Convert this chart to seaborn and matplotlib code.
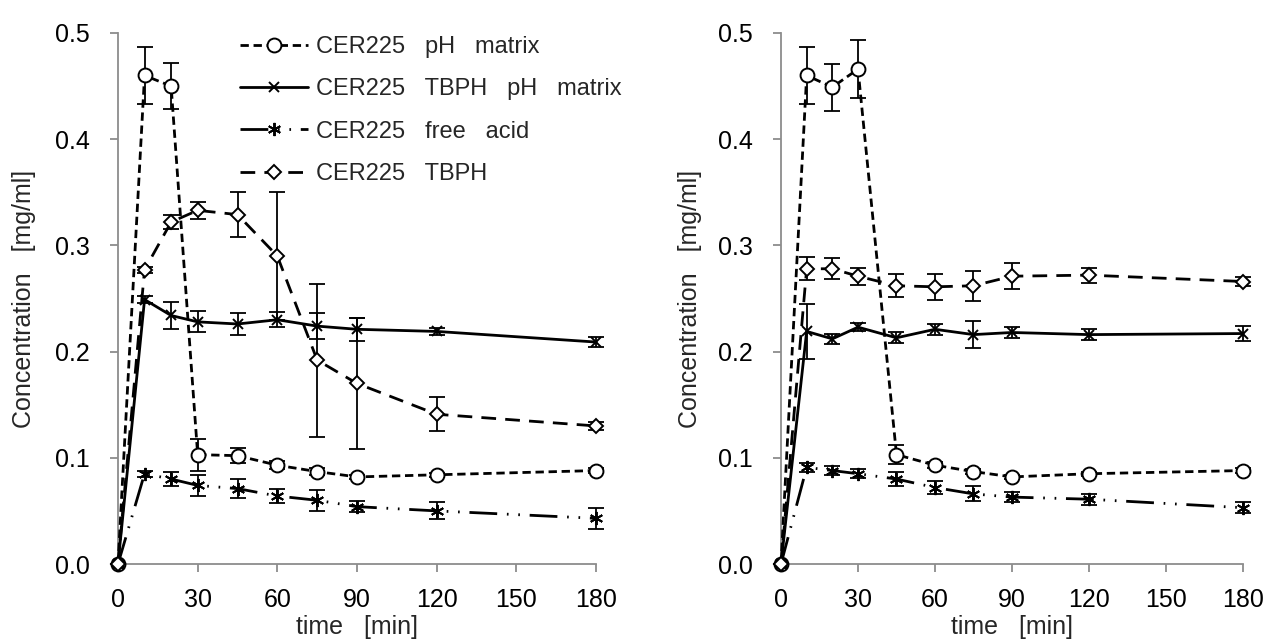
import numpy as np
import pandas as pd
import matplotlib
matplotlib.use("Agg")
import matplotlib.pyplot as plt
import seaborn as sns

# ---- data ----
time_min = [0, 10, 20, 30, 45, 60, 75, 90, 120, 180]

# left panel
ph_matrix_A = [0, 0.460, 0.450, 0.103, 0.102, 0.093, 0.087, 0.082, 0.084, 0.088]
ph_matrix_A_err = [0, 0.027, 0.022, 0.015, 0.007, 0.004, 0.003, 0.002, 0.002, 0.002]
tbph_ph_A = [0, 0.249, 0.234, 0.228, 0.226, 0.230, 0.224, 0.221, 0.219, 0.209]
tbph_ph_A_err = [0, 0.003, 0.013, 0.010, 0.010, 0.007, 0.012, 0.011, 0.003, 0.005]
free_acid_A = [0, 0.085, 0.080, 0.074, 0.071, 0.064, 0.060, 0.054, 0.050, 0.043]
free_acid_A_err = [0, 0.003, 0.007, 0.010, 0.009, 0.007, 0.010, 0.005, 0.008, 0.010]
tbph_A = [0, 0.277, 0.322, 0.333, 0.329, 0.290, 0.192, 0.170, 0.141, 0.130]
tbph_A_err = [0, 0.003, 0.007, 0.008, 0.021, 0.060, 0.072, 0.062, 0.016, 0.004]

# right panel
ph_matrix_B = [0, 0.460, 0.449, 0.466, 0.103, 0.093, 0.087, 0.082, 0.085, 0.088]
ph_matrix_B_err = [0, 0.027, 0.022, 0.027, 0.009, 0.003, 0.002, 0.002, 0.002, 0.002]
tbph_ph_B = [0, 0.219, 0.212, 0.223, 0.213, 0.221, 0.216, 0.218, 0.216, 0.217]
tbph_ph_B_err = [0, 0.026, 0.005, 0.004, 0.005, 0.005, 0.013, 0.005, 0.005, 0.007]
free_acid_B = [0, 0.091, 0.088, 0.085, 0.080, 0.072, 0.066, 0.063, 0.061, 0.053]
free_acid_B_err = [0, 0.004, 0.004, 0.004, 0.007, 0.006, 0.007, 0.005, 0.005, 0.005]
tbph_B = [0, 0.278, 0.278, 0.271, 0.262, 0.261, 0.262, 0.271, 0.272, 0.266]
tbph_B_err = [0, 0.011, 0.010, 0.008, 0.011, 0.012, 0.014, 0.012, 0.007, 0.004]

series_labels = ["CER225   pH   matrix", "CER225   TBPH   pH   matrix",
                 "CER225   free   acid", "CER225   TBPH"]
x_ticks = [0, 30, 60, 90, 120, 150, 180]
y_ticks = [0.0, 0.1, 0.2, 0.3, 0.4, 0.5]
x_label = "time   [min]"
y_label = "Concentration   [mg/ml]"

# ---- style ----
sns.set_theme(style="white")
plt.rcParams["font.family"] = ["Liberation Sans", "DejaVu Sans"]

styles = [
    dict(marker="o", linestyle=(0, (3.0, 1.7)), markersize=10, mfc="white"),
    dict(marker="x", linestyle="-", markersize=7.5, mfc="black"),
    dict(marker=(6, 2, 0), linestyle=(0, (10, 3.5, 0.6, 3.5, 0.6, 3.5)), markersize=9.5, mfc="black"),
    dict(marker="D", linestyle=(0, (5.3, 3.3)), markersize=7.2, mfc="white"),
]

fig = plt.figure(figsize=(12.68, 6.44), dpi=100)
axA = fig.add_axes([118 / 1268, 1 - 564 / 644, (596 - 118) / 1268, (564 - 33) / 644])
axB = fig.add_axes([781 / 1268, 1 - 564 / 644, (1243 - 781) / 1268, (564 - 33) / 644])

panels = [
    (axA, [ph_matrix_A, tbph_ph_A, free_acid_A, tbph_A],
     [ph_matrix_A_err, tbph_ph_A_err, free_acid_A_err, tbph_A_err]),
    (axB, [ph_matrix_B, tbph_ph_B, free_acid_B, tbph_B],
     [ph_matrix_B_err, tbph_ph_B_err, free_acid_B_err, tbph_B_err]),
]

handles = []
for ax, ys, errs in panels:
    for i, (y, e, st, lab) in enumerate(zip(ys, errs, styles, series_labels)):
        df = pd.DataFrame({"t": time_min, "c": y})
        ax.errorbar(time_min, y, yerr=e, fmt="none", ecolor="black",
                    elinewidth=1.3, capsize=6, capthick=1.3, zorder=2, clip_on=False)
        sns.lineplot(data=df, x="t", y="c", ax=ax, color="black",
                     linewidth=2.0, linestyle=st["linestyle"], marker=st["marker"],
                     markersize=st["markersize"], markerfacecolor=st["mfc"],
                     markeredgecolor="black", markeredgewidth=1.4,
                     label=lab, legend=False, zorder=3 + i, clip_on=False,
                     sort=False, errorbar=None)
        if ax is axA:
            handles.append(ax.lines[-1])

    ax.set_xlim(0, 180)
    ax.set_ylim(0, 0.5)
    ax.set_xticks(x_ticks)
    ax.set_yticks(y_ticks)
    ax.set_yticklabels([f"{v:.1f}" for v in y_ticks])
    ax.set_xlabel(x_label, fontsize=18, va="center")
    ax.set_ylabel(y_label, fontsize=18, va="center")
    ax.xaxis.set_label_coords(0.5, -(627 - 564) / 531)
    ax.yaxis.set_label_coords(-(118 - 24) / 478, 0.5)
    for s in ["top", "right"]:
        ax.spines[s].set_visible(False)
    for s in ["left", "bottom"]:
        ax.spines[s].set_color("#8c8c8c")
        ax.spines[s].set_linewidth(1.3)
    ax.tick_params(axis="both", which="major", direction="out", length=6,
                   width=1.3, color="#8c8c8c", labelsize=18, labelcolor="black",
                   left=True, bottom=True)
    ax.tick_params(axis="y", pad=14)
    ax.tick_params(axis="x", pad=11)
    ax.grid(False)

fig.legend(handles=handles, labels=series_labels, loc="upper left",
           bbox_to_anchor=(240 / 1268, 1 - 36 / 644), bbox_transform=fig.transFigure,
           frameon=False, fontsize=17, handlelength=2.9, handletextpad=0.34,
           labelspacing=0.86, borderpad=0, borderaxespad=0, numpoints=1)

fig.savefig("out.png", dpi=100, facecolor="white")
